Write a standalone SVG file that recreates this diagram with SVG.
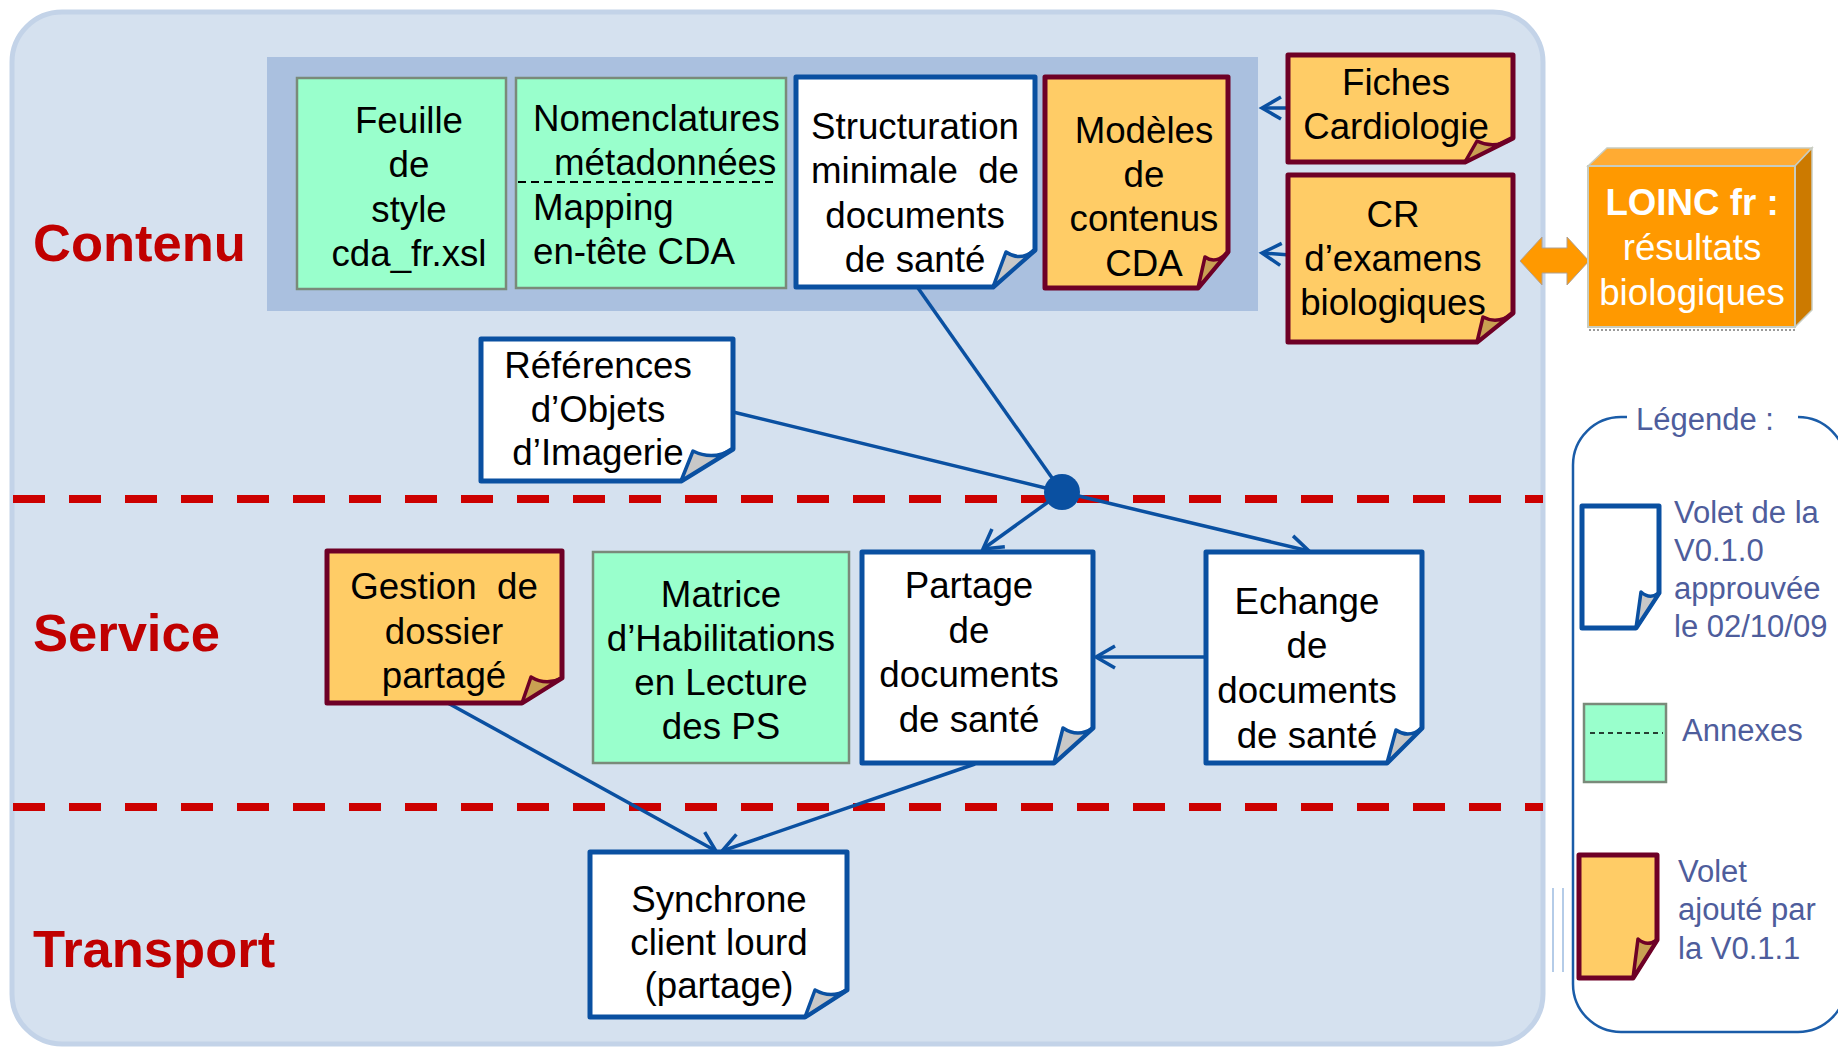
<svg xmlns="http://www.w3.org/2000/svg" width="1838" height="1047" viewBox="0 0 1838 1047">
<defs>
<style>
.t{font-family:"Liberation Sans",Arial,sans-serif;font-size:36.7px;fill:#000;text-anchor:middle}
.tl{font-family:"Liberation Sans",Arial,sans-serif;font-size:36.7px;fill:#000}
.lab{font-family:"Liberation Sans",Arial,sans-serif;font-size:52.5px;font-weight:bold;fill:#c00000}
.lg{font-family:"Liberation Sans",Arial,sans-serif;font-size:31px;fill:#4e5d9c}
.lo{font-family:"Liberation Sans",Arial,sans-serif;font-size:36.7px;fill:#fff;text-anchor:middle}
.green{fill:#99ffcc;stroke:#7a8a7a;stroke-width:2.5}
.wdoc{fill:#fff;stroke:#0a50a1;stroke-width:5;stroke-linejoin:round}
.wfold{fill:#c8c8c8;stroke:#0a50a1;stroke-width:3.5;stroke-linejoin:round}
.odoc{fill:#ffcc66;stroke:#6e0026;stroke-width:5;stroke-linejoin:round}
.ofold{fill:#c9a052;stroke:#6e0026;stroke-width:3.5;stroke-linejoin:round}
.con{fill:none;stroke:#0a50a1;stroke-width:3.5}
.red{stroke:#cc0000;stroke-width:8;stroke-dasharray:32 24}
</style>
<marker id="arr" viewBox="0 0 26 26" refX="22" refY="13" markerWidth="26" markerHeight="26" markerUnits="userSpaceOnUse" orient="auto">
<path d="M3,2 L22,13 L3,24" fill="none" stroke="#0a50a1" stroke-width="3.5"/>
</marker>
</defs>
<rect x="0" y="0" width="1838" height="1047" fill="#fff"/>
<rect id="panel" x="12" y="12" width="1531" height="1032" rx="50" fill="#d5e1ef" stroke="#c3d3e8" stroke-width="5"/>
<rect id="contenu-box" x="267" y="57" width="991" height="254" fill="#aac0df"/>
<g id="separators">
<line class="red" x1="13" y1="499" x2="1543" y2="499"/>
<line class="red" x1="13" y1="807" x2="1543" y2="807"/>
</g>
<g id="layer-labels">
<text class="lab" x="33" y="261">Contenu</text>
<text class="lab" x="33" y="651">Service</text>
<text class="lab" x="33" y="967">Transport</text>
</g>
<g id="connectors">
<line class="con" x1="918" y1="288" x2="1062" y2="492"/>
<line class="con" x1="733" y1="412" x2="1062" y2="492"/>
<line class="con" x1="1062" y1="492" x2="983" y2="549" marker-end="url(#arr)"/>
<line class="con" x1="1062" y1="492" x2="1309" y2="551" marker-end="url(#arr)"/>
<line class="con" x1="1206" y1="657" x2="1096" y2="657" marker-end="url(#arr)"/>
<line class="con" x1="446" y1="702" x2="716" y2="851" marker-end="url(#arr)"/>
<line class="con" x1="975" y1="764" x2="722" y2="851" marker-end="url(#arr)"/>
<line class="con" x1="1290" y1="108" x2="1262" y2="108" marker-end="url(#arr)"/>
<line class="con" x1="1290" y1="255" x2="1262" y2="253" marker-end="url(#arr)"/>
<polygon points="1520,261 1542,237 1542,248 1567,248 1567,237 1589,261 1567,285 1567,273 1542,273 1542,285" fill="#ff9900" stroke="#b0a090" stroke-width="1"/>
<circle cx="1062" cy="492" r="18" fill="#0a50a1"/>
</g>
<g id="feuille">
<rect class="green" x="297" y="78" width="209" height="211"/>
<text class="t" x="409" y="133">Feuille</text>
<text class="t" x="409" y="177">de</text>
<text class="t" x="409" y="222">style</text>
<text class="t" x="409" y="266">cda_fr.xsl</text>
</g>
<g id="nomenclatures">
<rect class="green" x="516" y="78" width="270" height="210"/>
<line x1="518" y1="182" x2="778" y2="182" stroke="#000" stroke-width="2" stroke-dasharray="8 5"/>
<text class="tl" x="533" y="131">Nomenclatures</text>
<text class="tl" x="554" y="175">métadonnées</text>
<text class="tl" x="533" y="220">Mapping</text>
<text class="tl" x="533" y="264">en-tête CDA</text>
</g>
<g id="structuration">
<path class="wdoc" d="M796,77 H1035 V250 L993,287 H796 Z"/>
<path class="wfold" d="M993,287 L1006,252 Q1020,262 1035,250 Z"/>
<text class="t" x="915" y="139">Structuration</text>
<text class="t" x="915" y="183" xml:space="preserve">minimale  de</text>
<text class="t" x="915" y="228">documents</text>
<text class="t" x="915" y="272">de santé</text>
</g>
<g id="modeles">
<path class="odoc" d="M1045,77 H1228 V252 L1198,288 H1045 Z"/>
<path class="ofold" d="M1198,288 L1205,257 Q1216,265 1228,252 Z"/>
<text class="t" x="1144" y="143">Modèles</text>
<text class="t" x="1144" y="187">de</text>
<text class="t" x="1144" y="231">contenus</text>
<text class="t" x="1144" y="276">CDA</text>
</g>
<g id="fiches">
<path class="odoc" d="M1288,55 H1513 V138 L1465,162 H1288 Z"/>
<path class="ofold" d="M1465,162 L1477,141 Q1495,150 1513,138 Z"/>
<text class="t" x="1396" y="95">Fiches</text>
<text class="t" x="1396" y="139">Cardiologie</text>
</g>
<g id="cr">
<path class="odoc" d="M1288,175 H1513 V313 L1477,342 H1288 Z"/>
<path class="ofold" d="M1477,342 L1483,317 Q1498,325 1513,313 Z"/>
<text class="t" x="1393" y="227">CR</text>
<text class="t" x="1393" y="271">d’examens</text>
<text class="t" x="1393" y="315">biologiques</text>
</g>
<g id="loinc">
<polygon points="1588,166 1607,148 1812,148 1795,166" fill="#ffab33" stroke="#c8ccc0" stroke-width="1.5"/>
<polygon points="1795,166 1812,148 1812,310 1795,327" fill="#cc7a00" stroke="#c8ccc0" stroke-width="1.5"/>
<rect x="1588" y="166" width="207" height="161" fill="#ff9900" stroke="#c8ccc0" stroke-width="2"/>
<line x1="1589" y1="330" x2="1795" y2="330" stroke="#9a9a9a" stroke-width="2" stroke-dasharray="2 2"/>
<text class="lo" x="1692" y="215" font-weight="bold">LOINC fr :</text>
<text class="lo" x="1692" y="260">résultats</text>
<text class="lo" x="1692" y="305">biologiques</text>
</g>
<g id="references">
<path class="wdoc" d="M481,339 H733 V449 L681,481 H481 Z"/>
<path class="wfold" d="M681,481 L693,451 Q713,461 733,449 Z"/>
<text class="t" x="598" y="378">Références</text>
<text class="t" x="598" y="422">d’Objets</text>
<text class="t" x="598" y="465">d’Imagerie</text>
</g>
<g id="gestion">
<path class="odoc" d="M327,551 H562 V678 L522,703 H327 Z"/>
<path class="ofold" d="M522,703 L531,677 Q546,686 562,678 Z"/>
<text class="t" x="444" y="599" xml:space="preserve">Gestion  de</text>
<text class="t" x="444" y="644">dossier</text>
<text class="t" x="444" y="688">partagé</text>
</g>
<g id="matrice">
<rect class="green" x="593" y="552" width="256" height="211"/>
<text class="t" x="721" y="607">Matrice</text>
<text class="t" x="721" y="651">d’Habilitations</text>
<text class="t" x="721" y="695">en Lecture</text>
<text class="t" x="721" y="739">des PS</text>
</g>
<g id="partage">
<path class="wdoc" d="M862,552 H1093 V728 L1054,763 H862 Z"/>
<path class="wfold" d="M1054,763 L1063,728 Q1078,738 1093,728 Z"/>
<text class="t" x="969" y="598">Partage</text>
<text class="t" x="969" y="643">de</text>
<text class="t" x="969" y="687">documents</text>
<text class="t" x="969" y="732">de santé</text>
</g>
<g id="echange">
<path class="wdoc" d="M1206,552 H1422 V728 L1387,763 H1206 Z"/>
<path class="wfold" d="M1387,763 L1396,730 Q1409,739 1422,728 Z"/>
<text class="t" x="1307" y="614">Echange</text>
<text class="t" x="1307" y="658">de</text>
<text class="t" x="1307" y="703">documents</text>
<text class="t" x="1307" y="748">de santé</text>
</g>
<g id="synchrone">
<path class="wdoc" d="M590,852 H847 V990 L805,1017 H590 Z"/>
<path class="wfold" d="M805,1017 L815,990 Q831,999 847,990 Z"/>
<text class="t" x="719" y="912">Synchrone</text>
<text class="t" x="719" y="955">client lourd</text>
<text class="t" x="719" y="998">(partage)</text>
</g>
<g id="legend">
<path d="M1627,417 H1621 A48,48 0 0 0 1573,465 V984 A48,48 0 0 0 1621,1032 H1798 A48,48 0 0 0 1846,984 V465 A48,48 0 0 0 1798,417" fill="none" stroke="#1a5ca8" stroke-width="2.5"/>
<text class="lg" x="1636" y="430">Légende :</text>
<path class="wdoc" d="M1582,506 H1659 V593 L1636,628 H1582 Z"/>
<path class="wfold" d="M1636,628 L1641,592 Q1650,600 1659,593 Z"/>
<text class="lg" x="1674" y="523">Volet de la</text>
<text class="lg" x="1674" y="561">V0.1.0</text>
<text class="lg" x="1674" y="599">approuvée</text>
<text class="lg" x="1674" y="637">le 02/10/09</text>
<rect class="green" x="1584" y="704" width="82" height="78"/>
<line x1="1590" y1="733" x2="1663" y2="733" stroke="#000" stroke-width="1.5" stroke-dasharray="5 4"/>
<text class="lg" x="1682" y="741">Annexes</text>
<path class="odoc" d="M1579,855 H1657 V940 L1633,978 H1579 Z"/>
<path class="ofold" d="M1633,978 L1638,939 Q1647,947 1657,940 Z"/>
<text class="lg" x="1678" y="882">Volet</text>
<text class="lg" x="1678" y="920">ajouté par</text>
<text class="lg" x="1678" y="959">la V0.1.1</text>
<line x1="1553" y1="888" x2="1553" y2="972" stroke="#9dbbe0" stroke-width="1.5"/>
<line x1="1563" y1="888" x2="1563" y2="972" stroke="#9dbbe0" stroke-width="1.5"/>
</g>
</svg>
